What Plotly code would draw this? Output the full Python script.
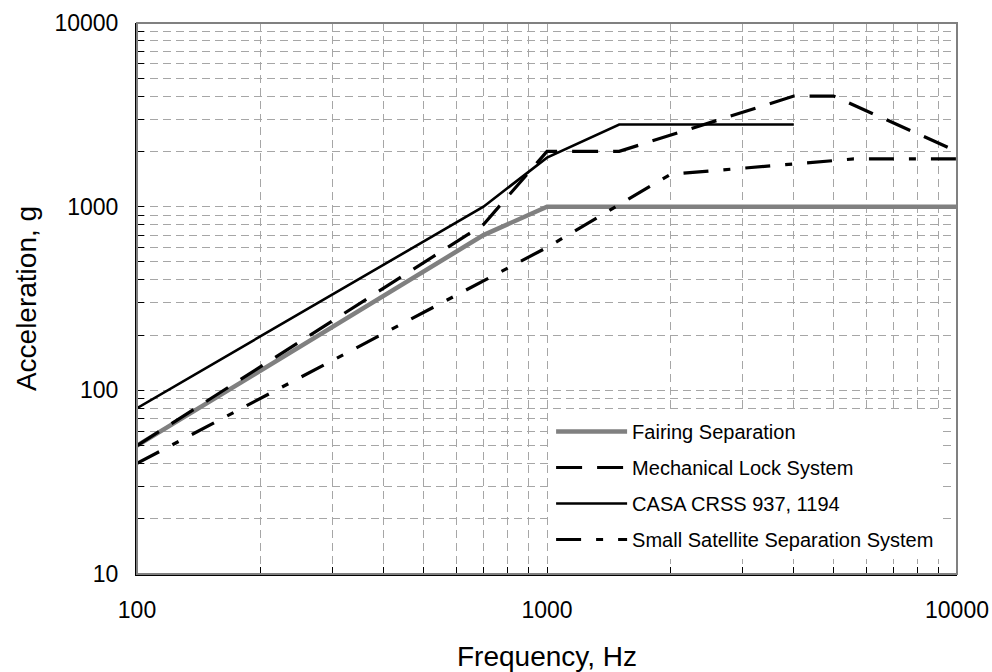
import plotly.graph_objects as go

# ---- data ----
fairing_f = [100, 700, 1000, 10000]
fairing_g = [50, 700, 1000, 1000]

mech_f = [100, 700, 1000, 1500, 4000, 5000, 10000]
mech_g = [50, 800, 2000, 2000, 4000, 4000, 2000]

casa_f = [100, 700, 1000, 1500, 4000]
casa_g = [80, 1000, 1850, 2800, 2800]

sss_f = [100, 1000, 2000, 5600, 10000]
sss_g = [40, 600, 1500, 1820, 1820]

x_ticks = [100, 1000, 10000]
y_ticks = [10, 100, 1000, 10000]

FONT = "Liberation Sans, Arial, sans-serif"


def all_log_ticks(lo_exp, hi_exp):
    vals, texts = [], []
    for e in range(lo_exp, hi_exp + 1):
        for m in range(1, 10):
            v = m * 10 ** e
            if v > 10 ** hi_exp:
                break
            vals.append(v)
            texts.append(str(v) if m == 1 else "")
    return vals, texts


xv, xt = all_log_ticks(2, 4)
yv, yt = all_log_ticks(1, 4)

fig = go.Figure()
fig.add_trace(go.Scatter(x=fairing_f, y=fairing_g, mode="lines", name="Fairing Separation",
                         legendgroup="a", line=dict(color="#808080", width=4.5)))
fig.add_trace(go.Scatter(x=mech_f, y=mech_g, mode="lines", name="Mechanical Lock System",
                         legendgroup="b", line=dict(color="black", width=3.2, dash="26px,15px")))
fig.add_trace(go.Scatter(x=casa_f, y=casa_g, mode="lines", name="CASA CRSS 937, 1194",
                         legendgroup="c", line=dict(color="black", width=2.6)))
fig.add_trace(go.Scatter(x=sss_f, y=sss_g, mode="lines", name="Small Satellite Separation System",
                         legendgroup="d", line=dict(color="black", width=3.2, dash="25px,15px,7px,15px")))

grid = dict(showgrid=True, gridcolor="#a6a6a6", gridwidth=1, griddash="8px,5px")

fig.update_xaxes(type="log", range=[2, 4], tickmode="array", tickvals=xv, ticktext=xt,
                 ticks="inside", ticklen=7, tickcolor="black", showline=True, linecolor="black",
                 linewidth=2, mirror=False, zeroline=False, automargin=False,
                 tickfont=dict(family=FONT, size=23, color="black"), ticklabelstandoff=14,
                 title=dict(text="Frequency, Hz", font=dict(family=FONT, size=28, color="black"),
                            standoff=30), **grid)
fig.update_yaxes(type="log", range=[1, 4], tickmode="array", tickvals=yv, ticktext=yt,
                 ticks="inside", ticklen=7, tickcolor="black", showline=True, linecolor="black",
                 linewidth=2, mirror=False, zeroline=False, automargin=False,
                 tickfont=dict(family=FONT, size=23, color="black"), ticklabelstandoff=12,
                 title=dict(text="Acceleration, g", font=dict(family=FONT, size=28, color="black"),
                            standoff=10), **grid)

# gray top/right frame of the plot area
fig.add_shape(type="rect", xref="paper", yref="paper", x0=0, y0=0, x1=1, y1=1,
              line=dict(color="#808080", width=2), layer="above")

fig.update_layout(
    width=992, height=672,
    margin=dict(l=137, r=35, t=23, b=98, autoexpand=False),
    plot_bgcolor="white", paper_bgcolor="white",
    font=dict(family=FONT, color="black"),
    legend=dict(x=0.505, y=0.294, xanchor="left", yanchor="top",
                bgcolor="white", borderwidth=0, itemwidth=71,
                font=dict(family=FONT, size=20, color="black"),
                tracegroupgap=7, itemclick=False),
    showlegend=True,
)

fig.write_html("out.html")
